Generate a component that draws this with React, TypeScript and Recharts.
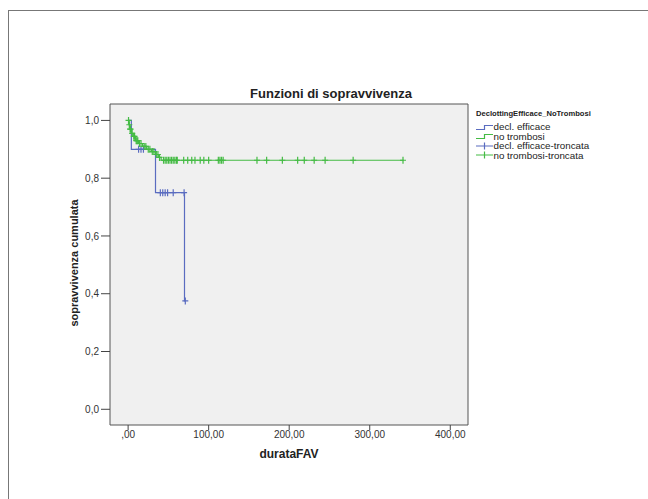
import React from 'react';
import { ComposedChart, Line, Scatter, XAxis, YAxis, ReferenceArea, Legend } from 'recharts';

// Kaplan-Meier step points (time, cumulative survival)
const declEfficaceSteps = [
  { t: 0, s: 1.0 },
  { t: 4, s: 0.9 },
  { t: 34, s: 0.75 },
  { t: 70, s: 0.375 },
  { t: 71, s: 0.375 },
];
// censored times (troncata)
const declEfficaceCensoredTimes = [13, 16, 19, 40, 43, 46, 49, 56, 69.5, 71];

const noTrombosiSteps = [
  { t: 0, s: 1.0 },
  { t: 1, s: 0.985 },
  { t: 2, s: 0.97 },
  { t: 4, s: 0.955 },
  { t: 6, s: 0.945 },
  { t: 9, s: 0.93 },
  { t: 13, s: 0.92 },
  { t: 18, s: 0.91 },
  { t: 23, s: 0.9 },
  { t: 29, s: 0.892 },
  { t: 34, s: 0.882 },
  { t: 38, s: 0.872 },
  { t: 41, s: 0.862 },
  { t: 342, s: 0.862 },
];
const noTrombosiCensoredTimes = [
  0.5, 1.5, 2.5, 3, 5, 7, 8, 10, 11, 12, 14, 16, 20, 22, 25, 27, 30, 32, 35, 37, 39,
  44, 46, 48, 50, 52, 54, 56, 58, 60, 61, 69, 74, 79, 83, 89.5, 94, 100,
  112, 114, 116, 118, 160, 172, 191.5, 210.5, 218.7, 231, 244.6, 279.4, 341.3,
];

const legendTitle = 'DeclottingEfficace_NoTrombosi';
const legendLabels = ['decl. efficace', 'no trombosi', 'decl. efficace-troncata', 'no trombosi-troncata'];

const xTicks = [0, 100, 200, 300, 400];
const yTicks = [0, 0.2, 0.4, 0.6, 0.8, 1.0];
const xDomain: [number, number] = [-22.5, 422];
const yDomain: [number, number] = [-0.0544, 1.0568];

const BLUE = '#5a6cc0';
const GREEN = '#44bb44';
const FONT = '"Liberation Sans", Arial, sans-serif';

// survival value of a step function at time t
const survivalAt = (steps: { t: number; s: number }[], t: number) => {
  let s = steps[0].s;
  for (const p of steps) if (p.t <= t) s = p.s;
  return s;
};

const declEfficaceCensored = declEfficaceCensoredTimes.map((t) => ({
  t,
  s: t === 69.5 ? 0.75 : survivalAt(declEfficaceSteps, t),
}));
const noTrombosiCensored = noTrombosiCensoredTimes.map((t) => ({ t, s: survivalAt(noTrombosiSteps, t) }));

const fmtX = (v: number) => (v === 0 ? ',00' : `${v},00`);
const fmtY = (v: number) => v.toFixed(1).replace('.', ',');

const crossShape = (color: string) => (props: any) => {
  const { cx, cy } = props;
  if (cx == null || cy == null) return <g />;
  return <path d={`M${cx - 3},${cy}h6M${cx},${cy - 3.5}v7`} stroke={color} strokeWidth={1.2} fill="none" />;
};

const StepIcon = ({ color }: { color: string }) => (
  <svg width={17} height={8} style={{ display: 'block' }}>
    <path d="M0,6.5H8.5V2.5H17" stroke={color} strokeWidth={1.2} fill="none" />
  </svg>
);
const CrossIcon = ({ color }: { color: string }) => (
  <svg width={17} height={8} style={{ display: 'block' }}>
    <path d="M0,4H17M8.5,0.5V7.5" stroke={color} strokeWidth={1.2} fill="none" />
  </svg>
);

const LegendBox = () => {
  const colors = [BLUE, GREEN, BLUE, GREEN];
  return (
    <div style={{ fontFamily: FONT, color: '#222' }}>
      <div style={{ fontSize: 7.6, fontWeight: 'bold', lineHeight: '10px', height: 13, whiteSpace: 'nowrap' }}>
        {legendTitle}
      </div>
      {legendLabels.map((label, i) => (
        <div key={label} style={{ display: 'flex', alignItems: 'center', height: 9.5, whiteSpace: 'nowrap' }}>
          {i < 2 ? <StepIcon color={colors[i]} /> : <CrossIcon color={colors[i]} />}
          <span style={{ fontSize: 9.8, lineHeight: '9.5px', marginLeft: 0.5 }}>{label}</span>
        </div>
      ))}
    </div>
  );
};

export default function App() {
  return (
    <div style={{ position: 'fixed', left: 0, top: 0, width: 648, height: 499, background: '#fff' }}>
      <div
        style={{
          position: 'absolute',
          left: 8,
          top: 10,
          right: 0,
          bottom: 0,
          borderTop: '1px solid #777',
          borderLeft: '1px solid #777',
        }}
      />
      <div style={{ position: 'absolute', left: 0, top: 0 }}>
        <ComposedChart width={648} height={499} margin={{ top: 104, right: 180, bottom: 44, left: 70 }}>
          <XAxis
            dataKey="t"
            type="number"
            domain={xDomain}
            ticks={xTicks}
            tickFormatter={fmtX}
            allowDataOverflow
            axisLine={false}
            tickSize={5}
            tickMargin={1}
            height={30}
            tickLine={{ stroke: '#444' }}
            tick={{ fontSize: 10, fill: '#333', fontFamily: FONT }}
          />
          <YAxis
            dataKey="s"
            type="number"
            domain={yDomain}
            ticks={yTicks}
            tickFormatter={fmtY}
            allowDataOverflow
            axisLine={false}
            tickSize={9}
            tickMargin={2}
            width={40}
            tickLine={{ stroke: '#444' }}
            tick={{ fontSize: 10, fill: '#333', fontFamily: FONT }}
          />
          <ReferenceArea
            x1={xDomain[0]}
            x2={xDomain[1]}
            y1={yDomain[0]}
            y2={yDomain[1]}
            fill="#f0f0f0"
            fillOpacity={1}
            stroke="#555"
            strokeWidth={1}
            ifOverflow="visible"
          />
          <Line
            data={declEfficaceSteps}
            dataKey="s"
            type="stepAfter"
            stroke={BLUE}
            strokeWidth={1.2}
            dot={false}
            isAnimationActive={false}
            name="decl. efficace"
          />
          <Scatter
            data={declEfficaceCensored}
            dataKey="s"
            shape={crossShape(BLUE)}
            isAnimationActive={false}
            name="decl. efficace-troncata"
          />
          <Line
            data={noTrombosiSteps}
            dataKey="s"
            type="stepAfter"
            stroke={GREEN}
            strokeWidth={1.2}
            dot={false}
            isAnimationActive={false}
            name="no trombosi"
          />
          <Scatter
            data={noTrombosiCensored}
            dataKey="s"
            shape={crossShape(GREEN)}
            isAnimationActive={false}
            name="no trombosi-troncata"
          />
          <Legend
            layout="horizontal"
            verticalAlign="middle"
            align="center"
            content={() => <LegendBox />}
            wrapperStyle={{ position: 'absolute', left: 476, top: 109, width: 170 }}
          />
          <text x={331} y={98} textAnchor="middle" fontFamily={FONT} fontSize={13} fontWeight="bold" fill="#222">
            Funzioni di sopravvivenza
          </text>
          <text x={289} y={458} textAnchor="middle" fontFamily={FONT} fontSize={12} fontWeight="bold" fill="#222">
            durataFAV
          </text>
          <text
            x={78}
            y={263}
            textAnchor="middle"
            fontFamily={FONT}
            fontSize={11}
            fontWeight="bold"
            fill="#222"
            transform="rotate(-90 78 263)"
          >
            sopravvivenza cumulata
          </text>
          <text
            x={358}
            y={227.5}
            textAnchor="middle"
            fontFamily='"Liberation Serif", "Times New Roman", serif'
            fontSize={11}
            fontWeight="bold"
            fill="#222"
          >
            p = 0.12
          </text>
        </ComposedChart>
      </div>
    </div>
  );
}
